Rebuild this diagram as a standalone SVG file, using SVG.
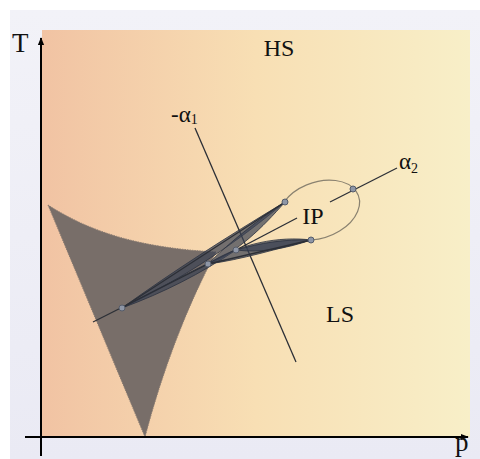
<svg xmlns="http://www.w3.org/2000/svg" width="480" height="459" viewBox="0 0 480 459">
<defs>
<linearGradient id="panel" x1="0" y1="0" x2="1" y2="0">
<stop offset="0" stop-color="#f1c3a3"/>
<stop offset="0.5" stop-color="#f8dfb4"/>
<stop offset="1" stop-color="#f8efc8"/>
</linearGradient>
<linearGradient id="outer" x1="0" y1="0" x2="0" y2="1">
<stop offset="0" stop-color="#f2f2f8"/>
<stop offset="1" stop-color="#eaeaf4"/>
</linearGradient>
<marker id="arr" viewBox="0 0 10 10" refX="9" refY="5" markerWidth="8" markerHeight="8" orient="auto" markerUnits="userSpaceOnUse">
<path d="M0,1 L10,5 L0,9 z" fill="#000"/>
</marker>
<style>
.lbl{font-family:"Liberation Serif","DejaVu Serif",serif;fill:#111}
.dot{fill:#8e96a6;stroke:#555c6a;stroke-width:1}
.thin{stroke:#2c2f36;stroke-width:1.3;fill:none}
.leaf{fill:#3a4152;fill-opacity:0.7;stroke:#2c3240;stroke-width:0.8}
</style>
</defs>
<rect x="0" y="0" width="480" height="459" fill="#ffffff"/>
<rect x="10" y="10" width="470" height="449" fill="url(#outer)"/>
<rect x="42" y="30" width="428" height="407" fill="url(#panel)"/>

<g id="region">
<path d="M48,205 C90,232 140,248 216,252 Q172,335 145,437 Z" fill="#786e69" stroke="#8a7c72" stroke-width="1" stroke-dasharray="1.5,1"/>
</g>

<g id="axes">
<line x1="41" y1="456" x2="41" y2="38" stroke="#000" stroke-width="2" marker-end="url(#arr)"/>
<line x1="25" y1="437" x2="468" y2="437" stroke="#000" stroke-width="2" marker-end="url(#arr)"/>
<text class="lbl" x="12" y="52" font-size="27">T</text>
<text class="lbl" x="455" y="451" font-size="27">p</text>
</g>

<g id="labels">
<text class="lbl" x="279" y="56" font-size="24" text-anchor="middle">HS</text>
<text class="lbl" x="340" y="322" font-size="24" text-anchor="middle">LS</text>
<text class="lbl" x="313" y="224" font-size="24" text-anchor="middle">IP</text>
<text class="lbl" x="171" y="122" font-size="23">-α<tspan font-size="14" dy="2">1</tspan></text>
<text class="lbl" x="399" y="169" font-size="23">α<tspan font-size="14" dy="4">2</tspan></text>
</g>

<g id="connectors">
<line class="thin" x1="195" y1="128" x2="296" y2="362"/>
<line class="thin" x1="330" y1="202" x2="397" y2="168"/>
<path d="M284,202 A42,28 -20 1 1 311,240" fill="none" stroke="#8a8270" stroke-width="1.2"/>
<path class="leaf" d="M122,308 C175,270 225,238 285,202 C240,240 185,278 122,308 Z"/>
<path class="leaf" d="M208,264 C232,240 258,220 285,202 C262,228 238,252 208,264 Z"/>
<path class="leaf" d="M122,308 C170,282 210,262 236,250 C200,274 165,292 122,308 Z"/>
<path class="leaf" d="M208,264 C240,243 280,236 311,240 C280,248 240,260 208,264 Z"/>
<path class="leaf" d="M236,250 C260,243 285,239 311,240 C285,249 260,253 236,250 Z"/>
<line class="thin" x1="93" y1="322" x2="208" y2="264"/>
<line class="thin" x1="208" y1="264" x2="311" y2="240"/>
<line class="thin" x1="122" y1="308" x2="285" y2="202"/>
<line class="thin" x1="236" y1="250" x2="297" y2="218"/>
</g>

<g id="points">
<circle class="dot" cx="122" cy="308" r="3"/>
<circle class="dot" cx="208" cy="264" r="3"/>
<circle class="dot" cx="236" cy="250" r="3"/>
<circle class="dot" cx="285" cy="202" r="3"/>
<circle class="dot" cx="311" cy="240" r="3"/>
<circle class="dot" cx="353" cy="189" r="3"/>
</g>
</svg>
